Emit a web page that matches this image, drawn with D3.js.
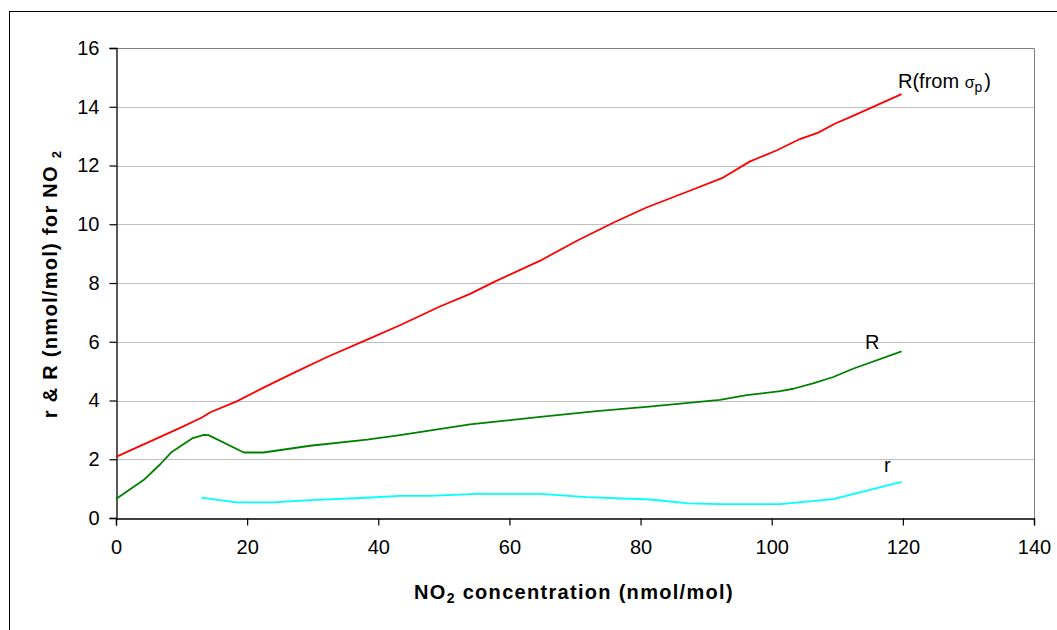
<!DOCTYPE html>
<html>
<head>
<meta charset="utf-8">
<script src="https://cdn.jsdelivr.net/npm/d3@7"></script>
<style>
  html, body { margin: 0; padding: 0; background: #fff; }
  svg { display: block; font-family: "Liberation Sans", Arial, sans-serif; }
</style>
</head>
<body>
<svg id="chart" width="1057" height="630"></svg>
<script>
// ---- data ----
const redX   = [0, 6.75, 10.1, 13.1, 14.4, 18.4, 22.5, 27.1, 32.2, 38.3, 43.3, 49.4, 54.0, 57.6, 64.7, 70.3, 75.9, 80.9, 87.5, 92.6, 96.7, 100.8, 104.3, 107.1, 109.7, 112.4, 119.8];
const redY   = [2.08, 2.76, 3.10, 3.42, 3.60, 3.97, 4.44, 4.94, 5.48, 6.07, 6.56, 7.20, 7.63, 8.03, 8.76, 9.44, 10.06, 10.57, 11.14, 11.59, 12.14, 12.52, 12.90, 13.12, 13.43, 13.69, 14.43];
const greenX = [0, 4.2, 6.75, 8.5, 11.6, 13.4, 14.1, 19.5, 22.5, 29.6, 38.3, 43.3, 54.0, 64.7, 73.3, 80.9, 92.1, 96.2, 101.3, 103.3, 106.3, 109.4, 112.4, 119.8];
const greenY = [0.65, 1.29, 1.83, 2.25, 2.71, 2.83, 2.82, 2.23, 2.23, 2.46, 2.67, 2.82, 3.19, 3.44, 3.64, 3.78, 4.02, 4.18, 4.32, 4.40, 4.58, 4.80, 5.08, 5.67];
const cyanX  = [13.0, 18.4, 24.0, 29.6, 38.2, 43.3, 47.9, 55.0, 64.7, 71.8, 81.5, 87.3, 92.1, 101.3, 109.4, 119.8];
const cyanY  = [0.69, 0.53, 0.53, 0.61, 0.69, 0.75, 0.75, 0.82, 0.82, 0.71, 0.63, 0.50, 0.47, 0.47, 0.64, 1.23];
const xTicks = [0, 20, 40, 60, 80, 100, 120, 140];
const yTicks = [0, 2, 4, 6, 8, 10, 12, 14, 16];

// ---- layout ----
const svg = d3.select("#chart");
const L = 116, R = 1034, T = 48, B = 518;
const x = d3.scaleLinear().domain([0, 140]).range([L, R]);
const y = d3.scaleLinear().domain([0, 16]).range([B, T]);

// outer chart border
svg.append("rect").attr("x", 9.5).attr("y", 11.5).attr("width", 1200).attr("height", 800)
  .attr("fill", "none").attr("stroke", "#000").attr("stroke-width", 1);

// gridlines
svg.append("g").selectAll("line").data(yTicks.filter(d => d > 0)).join("line")
  .attr("x1", L).attr("x2", R)
  .attr("y1", d => Math.round(y(d)) + 0.5).attr("y2", d => Math.round(y(d)) + 0.5)
  .attr("stroke", "#c0c0c0").attr("stroke-width", 1);

// plot area border (top/right)
svg.append("path")
  .attr("d", `M${L},${T + 0.5}H${R + 0.5}V${B}`)
  .attr("fill", "none").attr("stroke", "#808080").attr("stroke-width", 1);

// axes
const yAxis = d3.axisLeft(y).tickValues(yTicks).tickSize(7).tickPadding(10).tickFormat(d3.format("d"));
const xAxis = d3.axisBottom(x).tickValues(xTicks).tickSize(7).tickPadding(14).tickFormat(d3.format("d"));
const gy = svg.append("g").attr("transform", `translate(${L + 0.5},0)`).call(yAxis);
const gx = svg.append("g").attr("transform", `translate(0,${B + 0.5})`).call(xAxis);
[gy, gx].forEach(g => {
  g.select(".domain").attr("stroke", "#000").attr("stroke-width", 1.3);
  g.selectAll(".tick line").attr("stroke", "#000").attr("stroke-width", 1.2);
  g.selectAll(".tick text").attr("fill", "#000")
    .style("font-size", "20px").style("font-family", "'Liberation Sans', Arial, sans-serif");
});

// lines
const line = d3.line().x(d => x(d[0])).y(d => y(d[1]));
const series = [
  { xs: redX, ys: redY, color: "#ff0000" },
  { xs: greenX, ys: greenY, color: "#008000" },
  { xs: cyanX, ys: cyanY, color: "#00ffff" }
];
series.forEach(s => {
  svg.append("path")
    .datum(s.xs.map((v, i) => [v, s.ys[i]]))
    .attr("d", line)
    .attr("fill", "none").attr("stroke", s.color).attr("stroke-width", 1.8)
    .attr("stroke-linejoin", "round");
});

// series labels
const lab1 = svg.append("text").attr("x", 898).attr("y", 88).attr("font-size", 20).attr("fill", "#000");
lab1.append("tspan").text("R(from ");
lab1.append("tspan").attr("font-size", 16).text("σ");
lab1.append("tspan").attr("font-size", 14).attr("dy", 4).text("p");
lab1.append("tspan").attr("dy", -4).attr("dx", 2).text(")");
svg.append("text").attr("x", 865).attr("y", 349).attr("font-size", 20).attr("fill", "#000").text("R");
svg.append("text").attr("x", 884).attr("y", 472).attr("font-size", 20).attr("fill", "#000").text("r");

// axis titles
const xt = svg.append("text").attr("x", 574).attr("y", 599).attr("text-anchor", "middle")
  .attr("font-size", 20).attr("font-weight", "bold").attr("letter-spacing", 1.3).attr("fill", "#000");
xt.append("tspan").text("NO");
xt.append("tspan").attr("font-size", 14).attr("dy", 4).text("2");
xt.append("tspan").attr("dy", -4).text(" concentration (nmol/mol)");

const yt = svg.append("text").attr("transform", "translate(57,284) rotate(-90)")
  .attr("text-anchor", "middle").attr("font-size", 20).attr("font-weight", "bold")
  .attr("letter-spacing", 1.3).attr("fill", "#000");
yt.append("tspan").text("r & R (nmol/mol) for NO  ");
yt.append("tspan").attr("font-size", 13).attr("dy", 4).text("2");
</script>
</body>
</html>
